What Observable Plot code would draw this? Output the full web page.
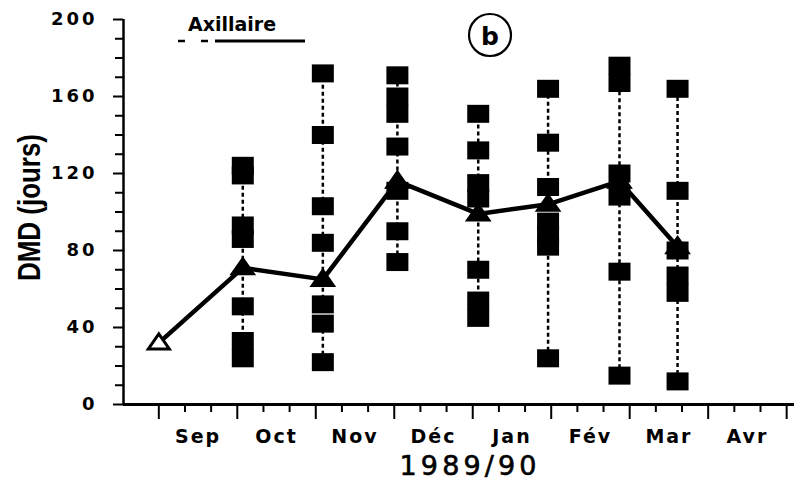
<!DOCTYPE html>
<html>
<head>
<meta charset="utf-8">
<script src="https://cdn.jsdelivr.net/npm/d3@7"></script>
<script src="https://cdn.jsdelivr.net/npm/@observablehq/plot@0.6"></script>
<style>
  body { margin: 0; background: #fff; }
  #wrap { position: relative; width: 794px; height: 495px; overflow: hidden; background: #fff; }
  #wrap > svg { position: absolute; left: 0; top: 0; }
  g[aria-label="y-axis tick label"] text { letter-spacing: 3px; }
  g[aria-label="x-axis tick label"] text { letter-spacing: 2px; }
</style>
</head>
<body>
<div id="wrap"></div>
<script>
// ---- data ----
const monthLabels = ["Sep", "Oct", "Nov", "Déc", "Jan", "Fév", "Mar", "Avr"];
const yTickValues = [0, 40, 80, 120, 160, 200];
const yLabel = "DMD (jours)";
const yearLabel = "1989/90";
// sampling dates, in months since 1 Sep 1989
const sampleMonth = [0, 1.07, 2.09, 3.04, 4.07, 4.96, 5.87, 6.61];
// mean DMD (triangles, solid line)
const meanDMD = [32, 71, 65, 116, 99, 104, 116, 82];
// individual DMD values (squares) for each sampling date
const dmdSep = [];
const dmdOct = [124, 119, 93, 86, 51, 33, 24];
const dmdNov = [172, 140, 103, 84, 52, 42, 22];
const dmdNovDec = [171, 160, 151, 134, 111, 90, 74];
const dmdDec = [151, 132, 115, 107, 70, 54, 45];
const dmdJan = [164, 136, 113, 95, 88, 82, 24];
const dmdFev = [176, 167, 120, 108, 69, 15];
const dmdMar = [164, 111, 80, 67, 58, 12];

const individualByDate = [dmdSep, dmdOct, dmdNov, dmdNovDec, dmdDec, dmdJan, dmdFev, dmdMar];

const points = individualByDate.flatMap((vals, i) => vals.map(v => ({x: sampleMonth[i], y: v})));
const columns = individualByDate
  .map((vals, i) => ({x: sampleMonth[i], lo: d3.min(vals), hi: d3.max(vals)}))
  .filter(d => d.lo !== undefined);
const meanData = sampleMonth.map((m, i) => ({x: m, y: meanDMD[i], first: i === 0}));

const xDomain = [-0.45, 8.1];
const majorX = d3.range(0, monthLabels.length + 1);
const minorX = d3.range(0, monthLabels.length * 3 + 1).filter(k => k % 3 !== 0).map(k => k / 3);
const monthCenters = monthLabels.map((_, i) => i + 0.5);
const minorY = d3.range(0, 201, 10).filter(v => v % 40 !== 0);

const rectSymbol = {
  draw(ctx) { const w = 22, h = 18; ctx.rect(-w / 2, -h / 2, w, h); }
};
const triSymbol = {
  draw(ctx) { const w = 21, h = 15; ctx.moveTo(0, -h * 0.6); ctx.lineTo(w / 2, h * 0.4); ctx.lineTo(-w / 2, h * 0.4); ctx.closePath(); }
};

const chart = Plot.plot({
  width: 794,
  height: 495,
  marginLeft: 123,
  marginRight: 0,
  marginTop: 19,
  marginBottom: 91,
  x: {domain: xDomain},
  y: {domain: [0, 200]},
  style: {fontFamily: "'DejaVu Sans', sans-serif", fontWeight: "bold", color: "#000", background: "transparent"},
  marks: [
    Plot.axisY(minorY, {tickSize: 8, tickFormat: () => "", strokeWidth: 2}),
    Plot.axisY(yTickValues, {tickSize: 10, tickPadding: 16, strokeWidth: 2, fontSize: 18, label: null}),
    Plot.axisX(majorX, {tickSize: 15, tickFormat: () => "", strokeWidth: 2, label: null}),
    Plot.axisX(minorX, {tickSize: 8, tickFormat: () => "", strokeWidth: 2, label: null}),
    Plot.axisX(monthCenters, {tickSize: 0, tickPadding: 25, fontSize: 19, label: null,
      tickFormat: d => monthLabels[Math.round(d - 0.5)]}),
    Plot.ruleX([xDomain[0]], {strokeWidth: 2.5}),
    Plot.ruleY([0], {strokeWidth: 3}),
    Plot.ruleX(columns, {x: "x", y1: "lo", y2: "hi", strokeWidth: 2.5, strokeDasharray: "4,3"}),
    Plot.dot(points, {x: "x", y: "y", symbol: rectSymbol, fill: "#000", stroke: "none"}),
    Plot.line(meanData, {x: "x", y: "y", stroke: "#000", strokeWidth: 4.5}),
    Plot.dot(meanData, {x: "x", y: "y", symbol: triSymbol, fill: d => d.first ? "#fff" : "#000",
      stroke: "#000", strokeWidth: 3}),
    Plot.text([yLabel], {text: d => d, frameAnchor: "left", dx: -93, dy: 69, rotate: -90, textAnchor: "start",
      fontSize: 31, fontFamily: "'Liberation Sans', Arial, sans-serif", fontWeight: "bold"}),
    Plot.text([yearLabel], {text: d => d, frameAnchor: "bottom", dx: 9, dy: 70, fontSize: 27,
      fontFamily: "'DejaVu Sans', sans-serif", fontWeight: "normal", fill: "#000", stroke: "#000",
      strokeWidth: 0.6})
  ]
});

document.getElementById("wrap").appendChild(chart);

// adjust text widths to mimic the original lettering
for (const t of chart.querySelectorAll("text")) {
  if (t.textContent === yLabel) {
    t.setAttribute("textLength", 147); t.setAttribute("lengthAdjust", "spacingAndGlyphs");
  } else if (t.textContent === yearLabel) {
    t.setAttribute("textLength", 137); t.setAttribute("lengthAdjust", "spacing");
  }
}

// annotation layer: "Axillaire" legend and panel letter (b)
const ov = d3.select("#wrap").append("svg")
  .attr("width", 794).attr("height", 495)
  .style("pointer-events", "none");
ov.append("text").attr("x", 188).attr("y", 31)
  .attr("font-family", "'DejaVu Sans', sans-serif").attr("font-weight", "bold").attr("font-size", 19)
  .text("Axillaire");
ov.append("line").attr("x1", 178).attr("x2", 212).attr("y1", 41).attr("y2", 41)
  .attr("stroke", "#000").attr("stroke-width", 2.5).attr("stroke-dasharray", "7,16");
ov.append("line").attr("x1", 215).attr("x2", 305).attr("y1", 41).attr("y2", 41)
  .attr("stroke", "#000").attr("stroke-width", 3);
ov.append("circle").attr("cx", 490).attr("cy", 35).attr("r", 21)
  .attr("fill", "none").attr("stroke", "#000").attr("stroke-width", 2.2);
ov.append("text").attr("x", 490).attr("y", 45).attr("text-anchor", "middle")
  .attr("font-family", "'DejaVu Sans', sans-serif").attr("font-weight", "bold").attr("font-size", 25)
  .text("b");
</script>
</body>
</html>
